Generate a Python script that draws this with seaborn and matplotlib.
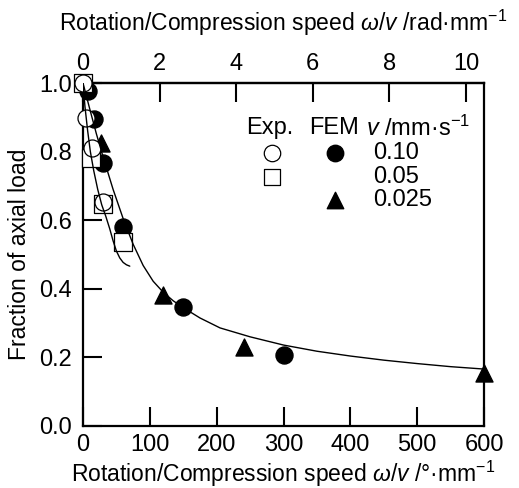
import numpy as np
import matplotlib
matplotlib.use("Agg")
import matplotlib.pyplot as plt
import seaborn as sns

# experimental points (open markers), x in deg/mm
exp_x_010 = [0, 4, 14, 30]
exp_y_010 = [1.0, 0.898, 0.81, 0.653]
exp_x_005 = [0, 12, 30, 60]
exp_y_005 = [1.0, 0.78, 0.647, 0.537]

# FEM points (filled markers)
fem_x_010 = [7, 16, 30, 60, 150, 300]
fem_y_010 = [0.977, 0.895, 0.767, 0.58, 0.347, 0.207]
fem_x_0025 = [27, 120, 241, 600]
fem_y_0025 = [0.825, 0.382, 0.231, 0.154]

# fitted curves
fem_curve_x = [0, 10, 20, 30, 45, 60, 75, 90, 105, 120, 135, 150, 175, 205,
               250, 300, 350, 400, 450, 500, 550, 600]
fem_curve_y = [1.0, 0.925, 0.852, 0.785, 0.69, 0.605, 0.53, 0.468, 0.422, 0.39,
               0.365, 0.345, 0.315, 0.286, 0.26, 0.236, 0.218, 0.204, 0.192,
               0.182, 0.173, 0.166]
exp_curve_x = [0, 3, 7, 11, 16, 22, 28, 34, 40, 45, 50, 55, 60, 65, 70]
exp_curve_y = [1.0, 0.93, 0.86, 0.8, 0.745, 0.69, 0.645, 0.612, 0.575, 0.54,
               0.51, 0.49, 0.477, 0.47, 0.466]

bottom_ticks = [0, 100, 200, 300, 400, 500, 600]
top_ticks = [0, 2, 4, 6, 8, 10]
y_ticks = [0.0, 0.2, 0.4, 0.6, 0.8, 1.0]
speeds = ["0.10", "0.05", "0.025"]

sns.set_style("ticks")
plt.rcParams["font.family"] = ["Liberation Sans", "DejaVu Sans"]
plt.rcParams["mathtext.fontset"] = "custom"
plt.rcParams["mathtext.rm"] = "Liberation Sans"
plt.rcParams["mathtext.it"] = "Liberation Sans:italic"
plt.rcParams["mathtext.bf"] = "Liberation Sans:bold"
plt.rcParams["text.color"] = "black"
plt.rcParams["axes.labelcolor"] = "black"
plt.rcParams["xtick.color"] = "black"
plt.rcParams["ytick.color"] = "black"
fs = 17     # tick labels and legend
fl = 16.5   # axis labels

fig = plt.figure(figsize=(5.19, 4.88), dpi=100)
ax = fig.add_axes([83 / 519, 62 / 488, 401 / 519, 343 / 488])

ms = 150
sns.scatterplot(x=fem_x_010, y=fem_y_010, marker="o", s=ms, color="black",
                edgecolor="black", linewidth=1, clip_on=False, zorder=3, ax=ax)
sns.scatterplot(x=fem_x_0025, y=fem_y_0025, marker="^", s=ms, color="black",
                edgecolor="black", linewidth=1, clip_on=False, zorder=3, ax=ax)
sns.scatterplot(x=exp_x_005, y=exp_y_005, marker="s", s=ms, color="white",
                edgecolor="black", linewidth=0.9, clip_on=False, zorder=4, ax=ax)
sns.scatterplot(x=exp_x_010, y=exp_y_010, marker="o", s=ms, color="white",
                edgecolor="black", linewidth=0.9, clip_on=False, zorder=5, ax=ax)
sns.lineplot(x=fem_curve_x, y=fem_curve_y, color="black", lw=1.0,
             estimator=None, zorder=6, ax=ax)
sns.lineplot(x=exp_curve_x, y=exp_curve_y, color="black", lw=1.0,
             estimator=None, zorder=6, ax=ax)

ax.set_xlim(0, 600)
ax.set_ylim(0, 1.0)
ax.set_xticks(bottom_ticks)
ax.set_yticks(y_ticks)
ax.set_yticklabels([f"{t:.1f}" for t in y_ticks])
for s in ax.spines.values():
    s.set_visible(True)
    s.set_linewidth(1.6)
    s.set_color("black")
ax.tick_params(direction="in", length=14, width=1.5, labelsize=fs, pad=6,
               colors="black", top=False, right=False)
ax.tick_params(axis="y", pad=8)
ax.set_xlabel(r"Rotation/Compression speed $\omega/v$ /°·mm$^{-1}$",
              fontsize=fl, labelpad=2, color="black")
ax.set_ylabel("Fraction of axial load", fontsize=fl, labelpad=6, color="black")

sec = ax.secondary_xaxis("top", functions=(np.deg2rad, np.rad2deg))
sec.set_xticks(top_ticks)
sec.tick_params(direction="in", length=14, width=1.5, labelsize=fs, pad=6,
                colors="black")
sec.spines["top"].set_linewidth(1.6)
sec.spines["top"].set_color("black")
sec.set_xlabel(r"Rotation/Compression speed $\omega/v$ /rad·mm$^{-1}$",
               fontsize=fl, labelpad=16, color="black")

# legend built by hand
def axf(px, py):
    return (px - 83) / 401, (426 - py) / 343

for txt, px in [("Exp.", 270), ("FEM", 334)]:
    ax.text(*axf(px, 128), txt, transform=ax.transAxes, fontsize=fs,
            ha="center", va="center", color="black")
ax.text(*axf(366, 128), r"$v$ /mm·s$^{-1}$", transform=ax.transAxes,
        fontsize=fs, ha="left", va="center", color="black")
for lab, py in zip(speeds, [153, 177, 200]):
    ax.text(*axf(373, py), lab, transform=ax.transAxes, fontsize=fs,
            ha="left", va="center", color="black")
leg_kw = dict(transform=ax.transAxes, s=140, clip_on=False, edgecolors="black")
ax.scatter(*axf(272, 153), marker="o", c="white", linewidths=0.9, **leg_kw)
ax.scatter(*axf(335, 153), marker="o", c="black", **leg_kw)
ax.scatter(*axf(272, 177), marker="s", c="white", linewidths=0.9, **leg_kw)
ax.scatter(*axf(335, 200), marker="^", c="black", **leg_kw)

fig.savefig("out.png", dpi=100)
plt.close(fig)
